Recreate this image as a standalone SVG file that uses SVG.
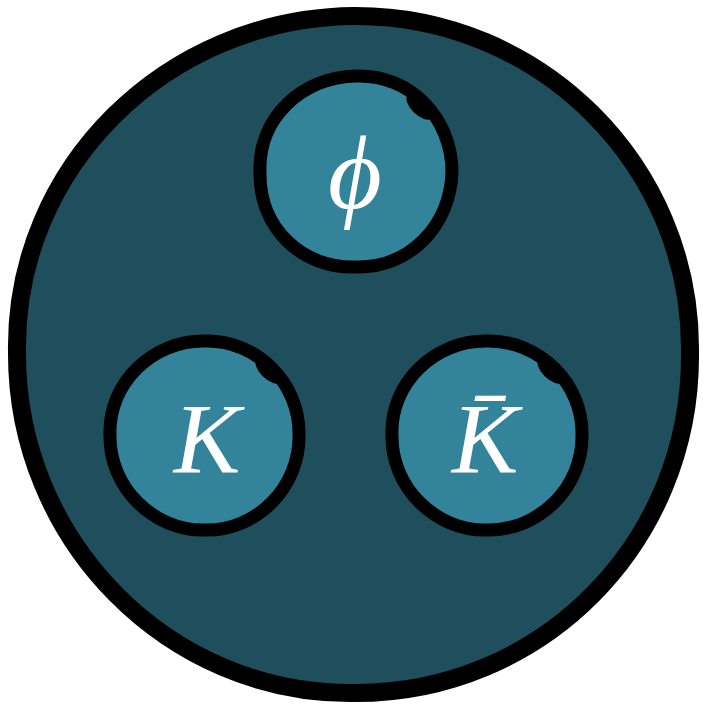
<svg xmlns="http://www.w3.org/2000/svg" width="703" height="706" viewBox="0 0 703 706">
<style>
.outer{fill:#1f4e5c;stroke:#000;stroke-width:18;stroke-linejoin:round}
.node{fill:#33849b;stroke:#000;stroke-width:13;stroke-linejoin:round}
.blob{fill:#000}
.lbl{font-family:"Liberation Serif","DejaVu Serif",serif;font-style:italic;fill:#fff;text-anchor:middle}
</style>
<rect width="703" height="706" fill="#fff"/>
<g id="hadron">
<path class="outer" d="M354,16 C540,15 692,166 690,352 C692,544 540,694 354,693 C168,695 16,540 17,352 C14,168 166,18 354,16 Z"/>
</g>
<g id="connectors"/>
<g id="phi">
<path class="node" d="M356,76 C410,74 452,118 452,172 C450,226 410,268 356,267 C302,269 259,228 260,172 C258,118 302,77 356,76 Z"/>
<ellipse class="blob" cx="420" cy="106" rx="17" ry="9" transform="rotate(45 420 106)"/>
<text class="lbl" x="355" y="208" font-size="104">ϕ</text>
</g>
<g id="K">
<path class="node" d="M205,341 C257,340 300,383 299,435 C300,487 257,531 205,530 C153,531 109,487 110,435 C108,383 153,340 205,341 Z"/>
<ellipse class="blob" cx="269" cy="370" rx="17" ry="9" transform="rotate(45 269 370)"/>
<text class="lbl" x="207" y="472" font-size="100">K</text>
</g>
<g id="Kbar">
<path class="node" d="M487,341 C539,340 583,383 582,435 C583,487 539,531 487,530 C435,531 391,487 392,435 C390,383 435,340 487,341 Z"/>
<ellipse class="blob" cx="551" cy="370" rx="17" ry="9" transform="rotate(45 551 370)"/>
<text class="lbl" x="485" y="472" font-size="100">K̄</text>
</g>
</svg>
